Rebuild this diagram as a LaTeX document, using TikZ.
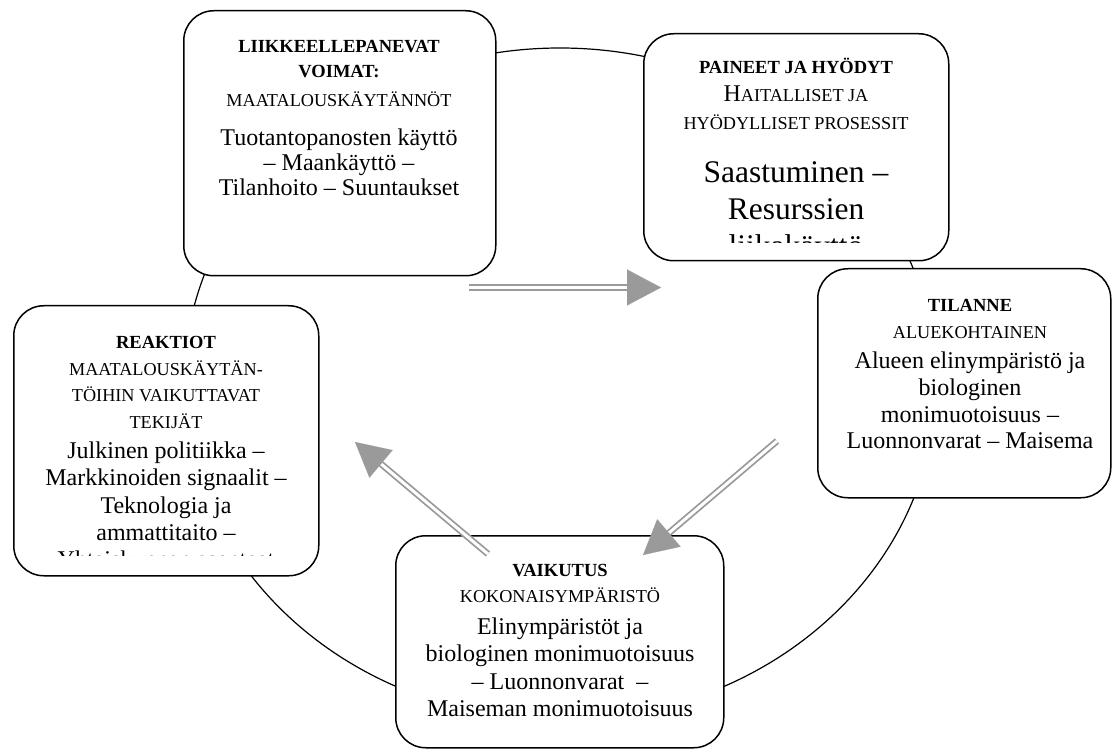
\documentclass[tikz,border=0pt]{standalone}
\usepackage{fontspec}
\setmainfont{Liberation Serif}
\usetikzlibrary{arrows.meta,calc,shapes.geometric}
\definecolor{arrgray}{HTML}{9A9A9A}
\begin{document}
\begin{tikzpicture}[x=1pt,y=-1pt,
  box/.style={draw=black, line width=1.5pt, fill=white, rounded corners=30pt, inner sep=0pt, anchor=north west},
  ttl/.style={font=\fontsize{18.5}{20}\selectfont\bfseries, anchor=base, inner sep=0pt},
  scx/.style={font=\fontsize{18.2}{20}\selectfont, anchor=base, inner sep=0pt},
  bgt/.style={font=\fontsize{24}{26}\selectfont, anchor=base, inner sep=0pt},
  hgt/.style={font=\fontsize{31.5}{34}\selectfont, anchor=base, inner sep=0pt},
  shaft/.style={draw=arrgray, line width=1.8pt, double=white, double distance=3pt},
  headtip/.style={draw=arrgray, fill=arrgray, line width=0.1pt, -{Triangle[length=34pt,width=36pt]}}
]
\useasboundingbox (0,0) rectangle (1114,751);
\fill[white] (0,0) rectangle (1114,751);

% cycle
\node[draw=black, line width=1.2pt, ellipse, minimum width=752pt, minimum height=672pt, inner sep=0pt] (cyc) at (560,384) {};

% boxes
\node[box, minimum width=312pt, minimum height=265pt] (b1) at (183,10) {};
\node[box, minimum width=305pt, minimum height=227pt] (b2) at (643,33) {};
\node[box, minimum width=293pt, minimum height=229pt] (b3) at (817,268) {};
\node[box, minimum width=305pt, minimum height=270pt] (b4) at (13,305) {};
\node[box, minimum width=328pt, minimum height=212pt] (b5) at (395,535) {};

% box 1 text
\node[ttl] (b1a) at (339,52.7) {LIIKKEELLEPANEVAT};
\node[ttl] (b1b) at (339,78) {VOIMAT:};
\node[scx] (b1c) at (339,106.7) {MAATALOUSKÄYTÄNNÖT};
\node[bgt] (b1d) at (339,145.5) {Tuotantopanosten käyttö};
\node[bgt] (b1e) at (339,170.5) {– Maankäyttö –};
\node[bgt] (b1f) at (339,195.5) {Tilanhoito – Suuntaukset};

% box 2 text (clipped)
\begin{scope}
\clip (648,36) rectangle (944,243);
\node[ttl] (b2a) at (796,74) {PAINEET JA HYÖDYT};
\node[scx] (b2b) at (796,101.7) {{\fontsize{24}{26}\selectfont H}AITALLISET JA};
\node[scx] (b2c) at (796,129.3) {HYÖDYLLISET PROSESSIT};
\node[hgt] (b2d) at (796,183) {Saastuminen –};
\node[hgt] (b2e) at (796,219.5) {Resurssien};
\node[hgt] (b2f) at (796,256.5) {liikakäyttö};
\end{scope}

% box 3 text
\node[ttl] (b3a) at (970,311.7) {TILANNE};
\node[scx] (b3b) at (970,339) {ALUEKOHTAINEN};
\node[bgt] (b3c) at (970,368.5) {Alueen elinympäristö ja};
\node[bgt] (b3d) at (970,395) {biologinen};
\node[bgt] (b3e) at (970,422.5) {monimuotoisuus –};
\node[bgt] (b3f) at (970,448.5) {Luonnonvarat – Maisema};

% box 4 text (clipped)
\begin{scope}
\clip (18,308) rectangle (313,555);
\node[ttl] (b4a) at (166,348.3) {REAKTIOT};
\node[scx] (b4b) at (166,375) {MAATALOUSKÄYTÄN-};
\node[scx] (b4c) at (166,401.7) {TÖIHIN VAIKUTTAVAT};
\node[scx] (b4d) at (166,428.3) {TEKIJÄT};
\node[bgt] (b4e) at (166,458) {Julkinen politiikka –};
\node[bgt] (b4f) at (166,485.5) {Markkinoiden signaalit –};
\node[bgt] (b4g) at (166,513.3) {Teknologia ja};
\node[bgt] (b4h) at (166,540) {ammattitaito –};
\node[bgt] (b4i) at (166,567) {Yhteiskunnan asenteet};
\end{scope}

% box 5 text
\node[ttl] (b5a) at (560,576) {VAIKUTUS};
\node[scx] (b5b) at (560,602.7) {KOKONAISYMPÄRISTÖ};
\node[bgt] (b5c) at (560,634) {Elinympäristöt ja};
\node[bgt] (b5d) at (560,661) {biologinen monimuotoisuus};
\node[bgt] (b5e) at (560,689) {– Luonnonvarat \ –};
\node[bgt] (b5f) at (560,716) {Maiseman monimuotoisuus};

% arrows
\coordinate (a1s) at (469,287.5);
\coordinate (a1t) at (661,287.5);
\coordinate (a2s) at (777,441);
\coordinate (a2t) at (643,555);
\coordinate (a3s) at (488,554);
\coordinate (a3t) at (355,442);
\coordinate (a1b) at ($(a1t)!34pt!(a1s)$);
\coordinate (a2b) at ($(a2t)!34pt!(a2s)$);
\coordinate (a3b) at ($(a3t)!34pt!(a3s)$);
\draw[shaft] (a1s) -- (a1b);
\draw[headtip] (a1b) -- (a1t);
\draw[shaft] (a2s) -- (a2b);
\draw[headtip] (a2b) -- (a2t);
\draw[shaft] (a3s) -- (a3b);
\draw[headtip] (a3b) -- (a3t);
\end{tikzpicture}
\end{document}
